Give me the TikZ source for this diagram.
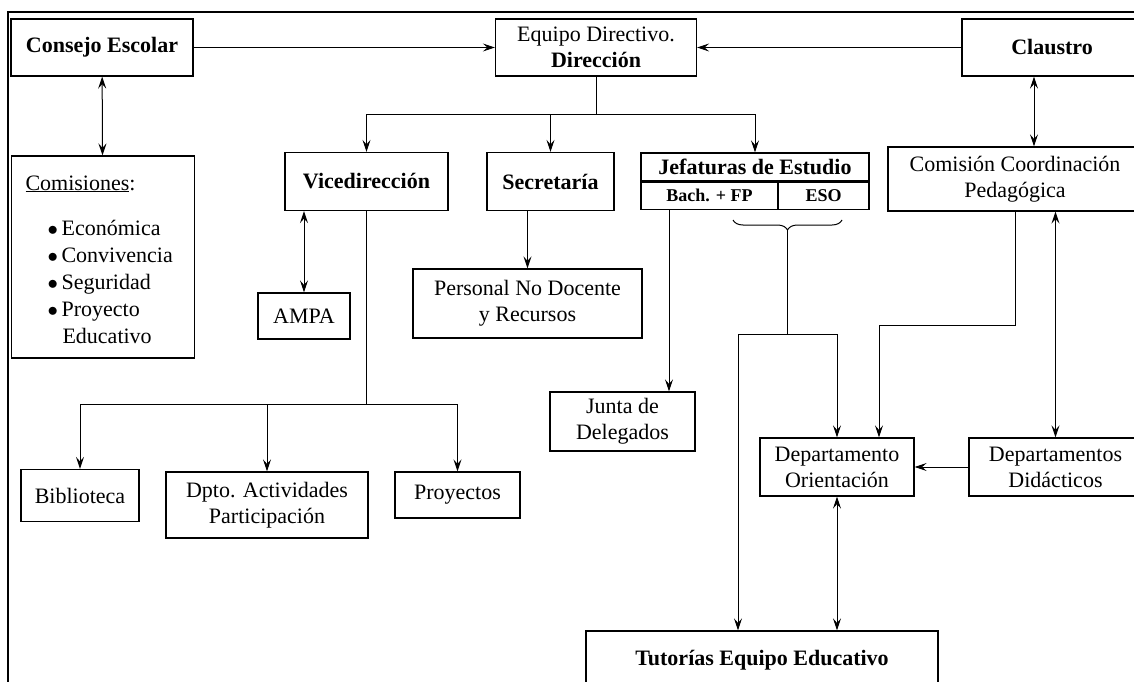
\documentclass[tikz,border=0pt]{standalone}
\usepackage{fontspec}
\setmainfont{Liberation Serif}
\usetikzlibrary{arrows.meta,decorations.pathreplacing}

\tikzset{
	box/.style={draw, line width=1.2pt, inner sep=0pt, align=center},
	wire/.style={line width=1pt},
	link/.style={wire, -{Stealth[length=12pt,width=8pt,inset=4.5pt]}},
	both/.style={wire, {Stealth[length=12pt,width=8pt,inset=4.5pt]}-{Stealth[length=12pt,width=8pt,inset=4.5pt]}},
	small/.style={font=\fontsize{18}{20}\selectfont}
}

\begin{document}
\begin{tikzpicture}[x=1pt,y=-1pt, every node/.style={font=\fontsize{22}{26}\selectfont}]
	\clip (0,0) rectangle (1134,682);
	\draw [line width=2.5pt] (8,700) -- (8,12) -- (1140,12);
	% top row
	\node[box, minimum width=182pt, minimum height=57pt] (cons) at (102,47.5) {\textbf{Consejo Escolar}};
	\node[box, minimum width=201pt, minimum height=57pt] (equipo) at (596,47.5) {Equipo Directivo.\\\textbf{Dirección}};
	\node[box, minimum width=180pt, minimum height=57pt] (claus) at (1052,47.5) {\textbf{Claustro}};
	% comisiones
	\node[box, minimum width=183pt, minimum height=202pt] (comis) at (103,257) {};
	\node[anchor=base west] (comt) at (22,190) {\underline{Comisiones}:};
	\foreach \kind [count=\i] in {Económica,Convivencia,Seguridad,Proyecto}
		\node[anchor=base west] (com\i) at (44,208+27*\i) {$\bullet$\,\kind};
	\node[anchor=base west] (com5) at (59,343) {Educativo};
	% second row
	\node[box, minimum width=163pt, minimum height=58pt] (vice) at (366.5,181.5) {\textbf{Vicedirección}};
	\node[box, minimum width=127pt, minimum height=58pt] (sec) at (550.5,181.5) {\textbf{Secretaría}};
	\node[box, minimum width=228pt, minimum height=28pt] (jef) at (755,167) {\textbf{Jefaturas de Estudio}};
	\node[box, small, minimum width=137pt, minimum height=27pt, anchor=north west] (bach) at (jef.south west) {\textbf{Bach. + FP}};
	\node[box, small, minimum width=91pt, minimum height=27pt, anchor=north east] (eso) at (jef.south east) {\textbf{ESO}};
	\node[box, minimum width=254pt, minimum height=64pt] (ccp) at (1015,179) {Comisión Coordinación\\Pedagógica};
	% lower boxes
	\node[box, minimum width=92pt, minimum height=46pt] (ampa) at (304,316) {AMPA};
	\node[box, minimum width=229pt, minimum height=69pt] (per) at (527.5,303.5) {Personal No Docente\\y Recursos};
	\node[box, minimum width=145pt, minimum height=59pt] (junta) at (622.5,421.5) {Junta de\\Delegados};
	\node[box, minimum width=118pt, minimum height=52pt] (bib) at (80,495.5) {Biblioteca};
	\node[box, minimum width=202pt, minimum height=66pt] (dpto) at (267,505) {Dpto. Actividades\\Participación};
	\node[box, minimum width=125pt, minimum height=46pt] (proy) at (457.5,495) {Proyectos};
	\node[box, minimum width=154pt, minimum height=58pt] (ori) at (837,467) {Departamento\\Orientación};
	\node[box, minimum width=173pt, minimum height=58pt] (did) at (1055.5,467) {Departamentos\\Didácticos};
	\node[box, minimum width=352pt, minimum height=58pt] (tut) at (762,660) {\textbf{Tutorías Equipo Educativo}};
	% connectors
	\draw [link] (cons) -- (equipo);
	\draw [link] (claus) -- (equipo);
	\draw [both] (cons) -- (comis);
	\draw [both] ([xshift=-18pt]claus.south) -- ([xshift=-18pt]claus.south |- ccp.north);
	\draw [wire] (equipo.south) -- ++(0,38) coordinate (eqj);
	\draw [link] (eqj) -| (vice.north);
	\draw [link] (eqj) -| (sec.north);
	\draw [link] (eqj) -| (jef.north);
	\draw [both] (ampa.north |- vice.south) -- (ampa.north);
	\draw [wire] (vice.south) -- ++(0,193) coordinate (vj);
	\draw [link] (vj) -| (bib.north);
	\draw [link] (vj) -| (dpto.north);
	\draw [link] (vj) -| (proy.north);
	\draw [link] (per.north |- sec.south) -- (per.north);
	\draw [link] ([xshift=-40.5pt]bach.south) -- ([xshift=-40.5pt]bach.south |- junta.north);
	% brace under the study heads
	\draw [wire, decorate, decoration={brace, mirror, amplitude=10pt}] (733,220) -- (842,220);
	\coordinate (tip) at (787.5,230);
	\coordinate (split) at (787.5,334);
	\draw [wire] (tip) -- (split);
	\draw [link] (split) -| ([xshift=-24pt]tut.north);
	\draw [link] (split) -| (ori.north);
	\draw [link] (ccp.south) -- ++(0,114) -| ([xshift=42pt]ori.north);
	\draw [both] (did.north |- ccp.south) -- (did.north);
	\draw [link] (did) -- (ori);
	\draw [both] (ori.south) -- (ori.south |- tut.north);
\end{tikzpicture}
\end{document}
